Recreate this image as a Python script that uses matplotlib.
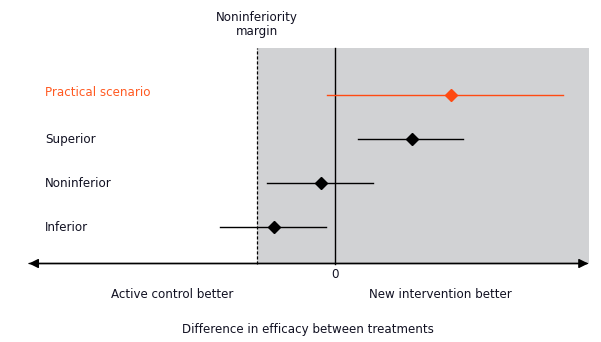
import matplotlib
matplotlib.use("Agg")
import matplotlib.pyplot as plt

# Data (units: noninferiority margin = -1)
scenarios = ["Practical scenario", "Superior", "Noninferior", "Inferior"]
estimates = [1.474, 0.981, -0.178, -0.777]
ci_low = [-0.106, 0.293, -0.862, -1.465]
ci_high = [2.908, 1.631, 0.480, -0.118]
margin = -1.0
colors = ["#ff4a12", "black", "black", "black"]
label_colors = ["#ff5a22", "#111122", "#111122", "#111122"]

W, H = 601, 342
fig = plt.figure(figsize=(W / 100, H / 100), dpi=100)
ax = fig.add_axes([0, 0, 1, 1])
px = 78.5  # pixels per unit
x0 = 335.0
ax.set_xlim((0 - x0) / px, (W - x0) / px)
# rows: y pixel = 95.1 + 44.1*r
def ry(p):
    return (p - 95.1) / 44.1
ax.set_ylim(ry(H), ry(0))
ax.axis("off")

axis_y = ry(263.5)
top_y = ry(48)
right_x = (589 - x0) / px
left_x = (29 - x0) / px

# gray region
ax.fill_between([margin, right_x], axis_y, top_y, color="#d1d2d4", lw=0, zorder=0)
# margin dashed line
ax.plot([margin, margin], [axis_y, top_y], ls=(0, (2.5, 1.5)), color="black", lw=0.9, zorder=2)
# zero line
ax.plot([0, 0], [axis_y, top_y], color="black", lw=1.0, zorder=2)
# horizontal axis with arrows
ax.annotate("", xy=(left_x, axis_y), xytext=(right_x - 0.02, axis_y),
            arrowprops=dict(arrowstyle="-|>", color="black", lw=1.0,
                            mutation_scale=14, shrinkA=0, shrinkB=0), zorder=3)
ax.annotate("", xy=(right_x - 0.01, axis_y), xytext=(left_x, axis_y),
            arrowprops=dict(arrowstyle="-|>", color="black", lw=1.0,
                            mutation_scale=14, shrinkA=0, shrinkB=0), zorder=3)

fs = 8.6
tc = "#111122"
for i, (name, est, lo, hi, c, lc) in enumerate(zip(scenarios, estimates, ci_low, ci_high, colors, label_colors)):
    ax.plot([lo, hi], [i, i], color=c, lw=1.0, zorder=3)
    ax.plot([est], [i], marker="D", color=c, ms=6.5, zorder=4, mec=c)
    ax.text((45 - x0) / px, i - 0.05 if i == 0 else i, name, color=lc, fontsize=fs,
            ha="left", va="center")

ax.text(margin, ry(25), "Noninferiority\nmargin", ha="center", va="center", fontsize=fs,
        linespacing=1.1, color=tc)
ax.text(0, ry(274), "0", ha="center", va="center", fontsize=fs, color=tc)
ax.text((172 - x0) / px, ry(294), "Active control better", ha="center", va="center", fontsize=fs, color=tc)
ax.text((440 - x0) / px, ry(294), "New intervention better", ha="center", va="center", fontsize=fs, color=tc)
ax.text((308 - x0) / px, ry(330), "Difference in efficacy between treatments", ha="center",
        va="center", fontsize=fs, color=tc)

fig.savefig("out.png", dpi=100)
